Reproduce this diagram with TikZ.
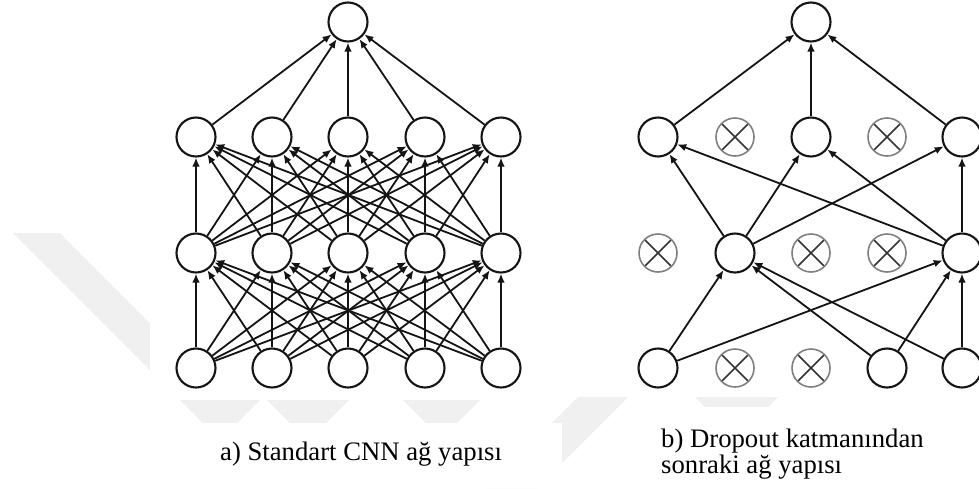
\documentclass[tikz,border=0pt]{standalone}
\usepackage{fontspec}
\setmainfont{Liberation Serif}
\usetikzlibrary{arrows.meta}
\begin{document}
\begin{tikzpicture}[x=1pt,y=-1pt,
  neuron/.style={circle,draw=black!92,line width=2.1pt,fill=white,minimum size=39pt,inner sep=0pt},
  dropped/.style={circle,draw=black!50,line width=1.6pt,fill=white,minimum size=38pt,inner sep=0pt,
    path picture={\draw[black!80,line width=1.7pt]
      (path picture bounding box.north west) -- (path picture bounding box.south east)
      (path picture bounding box.north east) -- (path picture bounding box.south west);}},
  link/.style={line width=1.8pt,draw=black!92,-{Latex[length=9pt,width=7.5pt]}},
  wmark/.style={fill=black!6,draw=none},
  paper/.style={fill=white,draw=none},
  caption/.style={font=\fontsize{26.7pt}{26pt}\selectfont,inner sep=0pt,anchor=base west}
]
\useasboundingbox (0,0) rectangle (979,488);
\fill[white] (0,0) rectangle (979,488);

% faint background emblem
\fill[wmark] (13,233) -- (220,440) -- (427,233) -- (380,233) -- (220,393) -- (60,233) -- cycle;
\fill[wmark] (167,300) -- (308,441) -- (449,300) -- (402,300) -- (308,394) -- (214,300) -- cycle;
\fill[wmark] (363,360) -- (441.5,438.5) -- (520,360) -- (473,360) -- (441.5,391.5) -- (410,360) -- cycle;
\fill[wmark] (578,397) -- (628,397) -- (537,488) -- (487,488) -- cycle;
\fill[wmark] (660,360) -- (736.5,440.5) -- (813,360) -- (766,360) -- (736.5,393.5) -- (707,360) -- cycle;

% white panels behind the two networks and the captions
\fill[paper] (150,0) rectangle (530,400);
\fill[paper] (625,0) rectangle (979,397);
\fill[paper] (187,423) rectangle (562,488);
\fill[paper] (633,407) rectangle (979,488);

% (a) fully connected network
\node[neuron] (a1) at (348,22) {};
\foreach \i/\x in {1/196,2/272,3/348,4/425,5/501} {
  \node[neuron] (a2\i) at (\x,137) {};
  \node[neuron] (a3\i) at (\x,253) {};
  \node[neuron] (a4\i) at (\x,368) {};
}
\foreach \i in {1,...,5} {
  \draw[link] (a2\i) -- (a1);
  \foreach \j in {1,...,5} {
    \draw[link] (a3\i) -- (a2\j);
    \draw[link] (a4\i) -- (a3\j);
  }
}

% (b) thinned network after dropout
\node[neuron] (b1) at (811,22) {};
\node[neuron]  (b21) at (658,137) {};
\node[dropped] (b22) at (735,137) {};
\node[neuron]  (b23) at (811,137) {};
\node[dropped] (b24) at (887,137) {};
\node[neuron]  (b25) at (962,137) {};
\node[dropped] (b31) at (658,253) {};
\node[neuron]  (b32) at (735,253) {};
\node[dropped] (b33) at (811,253) {};
\node[dropped] (b34) at (887,253) {};
\node[neuron]  (b35) at (962,253) {};
\node[neuron]  (b41) at (658,368) {};
\node[dropped] (b42) at (735,368) {};
\node[dropped] (b43) at (811,368) {};
\node[neuron]  (b44) at (887,368) {};
\node[neuron]  (b45) at (962,368) {};

\foreach \s in {b21,b23,b25} \draw[link] (\s) -- (b1);
\foreach \s in {b32,b35} {
  \foreach \t in {b21,b23,b25} \draw[link] (\s) -- (\t);
}
\foreach \s in {b41,b44,b45} {
  \foreach \t in {b32,b35} \draw[link] (\s) -- (\t);
}

% captions
\node[caption] (capa) at (220,460) {a) Standart CNN ağ yapısı};
\node[caption] (capb1) at (661,447) {b) Dropout katmanından};
\node[caption] (capb2) at (661,473) {sonraki ağ yapısı};
\end{tikzpicture}
\end{document}
